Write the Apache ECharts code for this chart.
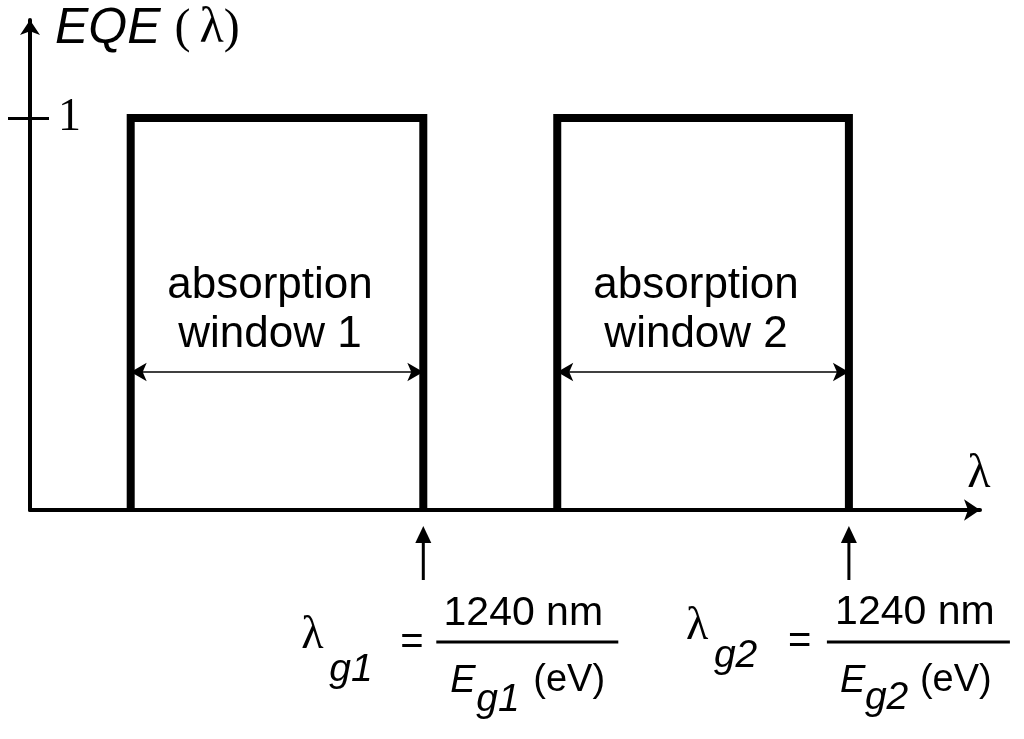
<!DOCTYPE html>
<html>
<head>
<meta charset="utf-8">
<script src="https://cdn.jsdelivr.net/npm/echarts@6/dist/echarts.min.js"></script>
<style>
html, body { margin: 0; padding: 0; background: #fff; }
#main { width: 1024px; height: 739px; }
</style>
</head>
<body>
<div id="main"></div>
<script>
// absorption windows, λ in arbitrary units along the axis
const windowStart = [10.6, 55.5]
const windowGap = [41.4, 86.2]   // λg1, λg2
const eqeLevel = [1, 1]
const windowNames = ['absorption\nwindow 1', 'absorption\nwindow 2']
const arrowLevel = 0.352          // height of the width arrows
const yTicks = [1]

const SANS = '"Liberation Sans", Arial, sans-serif'
const SERIF = '"Liberation Serif", "Times New Roman", serif'

// where each piece of the λg formula sits, relative to the arrow foot (px)
const formulaLayout = [
  { lam: [-122, 126], sub: [-94, 160], eq: [-23, 133], bar: [13, 195, 132], num: [100, 104], E: [27, 171], Esub: [53, 190], eV: [110, 171] },
  { lam: [-163, 117], sub: [-135, 146], eq: [-61, 132], bar: [-22, 161, 132], num: [66, 103], E: [-9, 171], Esub: [16, 188], eV: [71, 171] }
]

const renderFormula = (params, api) => {
  const i = params.dataIndex
  const p = api.coord([api.value(0), 0])
  const x = p[0], y = p[1]
  const L = formulaLayout[i]
  const n = i + 1
  const txt = (pos, text, size, family, italic, align) => ({
    type: 'text', x: x + pos[0], y: y + pos[1],
    style: {
      text, fill: '#000', fontSize: size, fontFamily: family,
      fontStyle: italic ? 'italic' : 'normal',
      align: align || 'left', verticalAlign: 'middle'
    }
  })
  return {
    type: 'group',
    children: [
      { type: 'line', shape: { x1: x, y1: y + 70, x2: x, y2: y + 30 }, style: { stroke: '#000', lineWidth: 3 } },
      { type: 'polygon', shape: { points: [[x, y + 16], [x - 8, y + 33], [x + 8, y + 33]] }, style: { fill: '#000' } },
      txt(L.lam, 'λ', 46, SERIF),
      txt(L.sub, 'g' + n, 39, SANS, true),
      txt(L.eq, '=', 40, SANS),
      { type: 'line', shape: { x1: x + L.bar[0], y1: y + L.bar[2], x2: x + L.bar[1], y2: y + L.bar[2] }, style: { stroke: '#000', lineWidth: 3 } },
      txt(L.num, '1240 nm', 41, SANS, false, 'center'),
      txt(L.E, 'E', 38, SANS, true),
      txt(L.Esub, 'g' + n, 39, SANS, true),
      txt(L.eV, '(eV)', 38, SANS)
    ]
  }
}

const windowSeries = windowStart.map((a, i) => ({
  type: 'line',
  data: [[a, 0], [a, eqeLevel[i]], [windowGap[i], eqeLevel[i]], [windowGap[i], 0]],
  symbol: 'none',
  silent: true,
  lineStyle: { color: '#000', width: 8, join: 'miter', cap: 'butt' },
  markLine: {
    silent: true,
    symbol: ['arrow', 'arrow'],
    symbolSize: [14, 16],
    lineStyle: { color: '#000', width: 1.5, type: 'solid' },
    emphasis: { disabled: true },
    label: {
      show: true,
      position: 'insideMiddleTop',
      formatter: windowNames[i],
      color: '#000',
      fontSize: 44,
      fontFamily: SANS,
      lineHeight: 49,
      distance: 13,
      padding: [0, 14, 0, 0]
    },
    data: [[{ coord: [a, arrowLevel] }, { coord: [windowGap[i], arrowLevel] }]]
  }
}))

const chart = echarts.init(document.getElementById('main'))
chart.setOption({
  animation: false,
  backgroundColor: '#fff',
  grid: { left: 30, right: 44, top: 20, bottom: 229 },
  xAxis: {
    type: 'value', min: 0, max: 100,
    splitLine: { show: false },
    axisTick: { show: false },
    axisLabel: { show: false },
    axisLine: { lineStyle: { color: '#000', width: 4 }, symbol: ['none', 'arrow'], symbolSize: [16, 16] },
    name: 'λ',
    nameLocation: 'end',
    nameGap: -1,
    nameTextStyle: { fontFamily: SERIF, fontSize: 48, color: '#000', align: 'center', verticalAlign: 'bottom', padding: [0, 0, 12, 0] }
  },
  yAxis: [{
    type: 'value', min: 0, max: 1.25, position: 'left',
    splitLine: { show: false },
    axisLine: { lineStyle: { color: '#000', width: 4 }, symbol: ['none', 'arrow'], symbolSize: [15, 15] },
    axisTick: { show: true, customValues: yTicks, length: 22, lineStyle: { color: '#000', width: 3 } },
    axisLabel: { show: false },
    name: '{e|EQE }{p|(}{s| }{l|λ}{p|)}',
    nameLocation: 'end',
    nameGap: -9,
    nameTextStyle: {
      align: 'left', verticalAlign: 'middle', padding: [0, 0, 0, 25],
      rich: {
        e: { fontFamily: SANS, fontStyle: 'italic', fontSize: 50, color: '#000' },
        p: { fontFamily: SERIF, fontSize: 48, color: '#000' },
        s: { fontFamily: SERIF, fontSize: 36, color: '#000' },
        l: { fontFamily: SERIF, fontSize: 50, color: '#000' }
      }
    }
  }, {
    type: 'value', min: 0, max: 1.25, position: 'left', offset: 0,
    splitLine: { show: false },
    axisLine: { show: false },
    axisTick: { show: true, inside: true, customValues: yTicks, length: 19, lineStyle: { color: '#000', width: 3 } },
    axisLabel: { show: true, inside: true, customValues: yTicks, margin: 28, fontFamily: SERIF, fontSize: 46, color: '#000' }
  }],
  series: windowSeries.concat([{
    type: 'custom',
    coordinateSystem: 'cartesian2d',
    data: windowGap.map(g => [g, 0]),
    renderItem: renderFormula,
    clip: false,
    silent: true,
    z: 3
  }])
})
</script>
</body>
</html>
